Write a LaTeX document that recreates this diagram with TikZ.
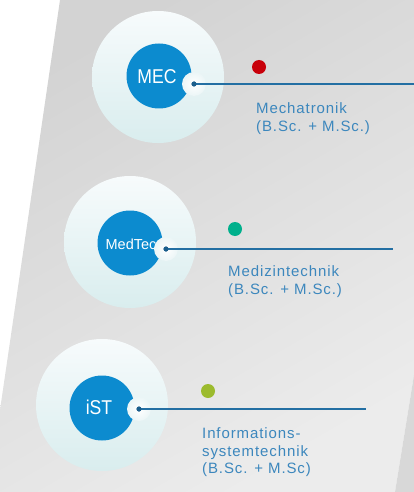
\documentclass[tikz,border=0pt]{standalone}
\usepackage{fontspec}
\setmainfont{Liberation Sans}
\newfontfamily\labfont[LetterSpace=6]{Liberation Sans}
\newfontfamily\condfont[FakeStretch=0.88]{Liberation Sans}
\definecolor{bgdark}{HTML}{D3D3D3}
\definecolor{bglight}{HTML}{ECECEC}
\definecolor{bgstrip}{HTML}{D8D8D8}
\definecolor{outtop}{HTML}{F7FBFC}
\definecolor{outbot}{HTML}{D9EDEE}
\definecolor{coreblue}{HTML}{0C8BCF}
\definecolor{linkblue}{HTML}{236FA3}
\definecolor{hubblue}{HTML}{1B5E8C}
\definecolor{labblue}{HTML}{3C87BD}
\definecolor{dotred}{HTML}{C8000A}
\definecolor{dotgreen}{HTML}{00B08C}
\definecolor{dotolive}{HTML}{9CBB2E}
\tikzset{
  outer/.style={circle, minimum size=132, inner sep=0, top color=outtop, bottom color=outbot, draw=none},
  core/.style={circle, minimum size=65, inner sep=0, fill=coreblue, text=white},
  notch/.style={circle, minimum size=24, inner sep=0, inner color=white, outer color=outtop!60!outbot},
  hub/.style={circle, minimum size=5, inner sep=0, fill=hubblue},
  conn/.style={draw=linkblue, line width=2.2pt},
  marker/.style={circle, minimum size=14, inner sep=0},
  lab/.style={anchor=north west, inner sep=0, align=left, text=labblue, font=\labfont\fontsize{15}{17.5}\selectfont}
}
\begin{document}
\begin{tikzpicture}[x=1pt,y=-1pt]
\useasboundingbox (0,0) rectangle (414,492);
% background panel
\shade[top color=bgdark, bottom color=bglight, shading angle=30]
  (60,0) -- (414,0) -- (414,375) -- (395,492) -- (-12,492) -- cycle;
\fill[bgstrip] (414,375) -- (414,492) -- (395,492) -- cycle;

% MEC
\node[outer] (o1) at (158,77) {};
\node[core, font=\condfont\fontsize{20}{20}\selectfont] (c1) at (159,76) {};
\node[text=white, inner sep=0, font=\condfont\fontsize{20}{20}\selectfont] (t1) at (157,77) {MEC};
\node[notch] (n1) at (194,84) {};
\coordinate (e1) at (414,84);
\node[hub] (h1) at (n1) {};
\draw[conn] (h1.center) -- (e1);
\node[hub] at (h1) {};
\node[marker, fill=dotred] (m1) at (259,67) {};
\node[lab] (l1) at (256,102.5) {Mechatronik\\(B.Sc. + M.Sc.)};

% MedTec
\node[outer] (o2) at (130,242) {};
\node[core] (c2) at (130,243) {};
\node[text=white, inner sep=0, font=\fontsize{14.5}{14.5}\selectfont] (t2) at (131,244) {MedTec};
\node[notch] (n2) at (166,249) {};
\coordinate (e2) at (393,249);
\node[hub] (h2) at (n2) {};
\draw[conn] (h2.center) -- (e2);
\node[hub] at (h2) {};
\node[marker, fill=dotgreen] (m2) at (235,229) {};
\node[lab] (l2) at (228,265.5) {Medizintechnik\\(B.Sc. + M.Sc.)};

% iST
\node[outer] (o3) at (102,405) {};
\node[core] (c3) at (102,408) {};
\node[text=white, inner sep=0, font=\condfont\fontsize{20}{20}\selectfont] (t3) at (99,407) {iST};
\node[notch] (n3) at (139,409) {};
\coordinate (e3) at (366,409);
\node[hub] (h3) at (n3) {};
\draw[conn] (h3.center) -- (e3);
\node[hub] at (h3) {};
\node[marker, fill=dotolive] (m3) at (208,391) {};
\node[lab] (l3) at (202,427.5) {Informations-\\systemtechnik\\(B.Sc. + M.Sc)};
\end{tikzpicture}
\end{document}
